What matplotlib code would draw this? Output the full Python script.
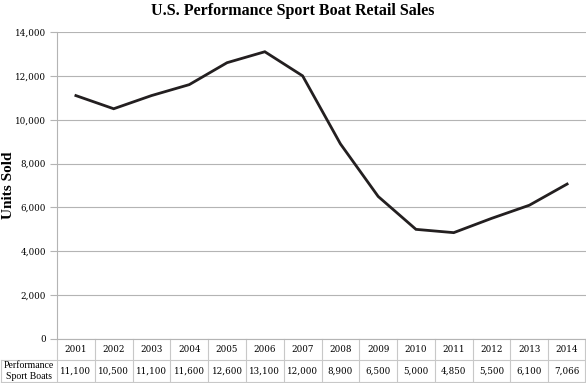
import matplotlib
matplotlib.use('Agg')
import matplotlib.pyplot as plt
import matplotlib.transforms as mtrans
from matplotlib.ticker import FuncFormatter

# Data #

years = ['2001', '2002', '2003', '2004', '2005', '2006', '2007',
         '2008', '2009', '2010', '2011', '2012', '2013', '2014']
boats = [11100, 10500, 11100, 11600, 12600, 13100, 12000,
         8900, 6500, 5000, 4850, 5500, 6100, 7066]
row_label = 'Performance\nSport Boats'

# Figure #

W, H = 586, 383
fig = plt.figure(figsize=(W / 100, H / 100), dpi=100)
left, right, top, bottom = 57, 586, 32, 339
ax = fig.add_axes([left / W, 1 - bottom / H, (right - left) / W, (bottom - top) / H])

grid_c = '#b4b4b4'
cell_c = '#c8c8c8'
serif = ['DejaVu Serif']

x = list(range(len(years)))
ax.plot(x, boats, color='#231f20', lw=2.0, solid_joinstyle='miter', zorder=3)

ax.set_xlim(-0.5, len(years) - 0.5)
ax.set_ylim(0, 14000)
ax.set_yticks(range(0, 14001, 2000))
ax.yaxis.set_major_formatter(FuncFormatter(lambda v, p: f'{int(v):,}'))
ax.tick_params(axis='y', length=5, width=0.8, color=grid_c, pad=3, labelsize=6.3)
for lab in ax.get_yticklabels():
    lab.set_family(serif)
ax.set_xticks([])
ax.grid(True, axis='y', color=grid_c, lw=0.8)
ax.set_axisbelow(True)
for s in ['top', 'right']:
    ax.spines[s].set_visible(False)
for s in ['left', 'bottom']:
    ax.spines[s].set_color(grid_c)
    ax.spines[s].set_linewidth(0.8)

fig.text(9 / W, 1 - 185 / H, 'Units Sold', rotation=90, ha='center', va='center',
         fontsize=11, fontweight='bold', family='Liberation Serif')
fig.text(0.5, 1 - 11 / H, 'U.S. Performance Sport Boat Retail Sales',
         ha='center', va='center', fontsize=11.5, fontweight='bold',
         family='Liberation Serif')

# Table below the axes (x in data units, y in pixels from axes bottom) #

unit_px = ax.get_window_extent().height
def yp(px):
    return -px / unit_px

trans = mtrans.blended_transform_factory(ax.transData, ax.transAxes)
row1 = yp(21)
row2 = yp(43)
x0 = -0.5
xl = x0 - (left - 0.5) / ((right - left) / len(years))  # left edge of label column
xr = len(years) - 0.5 - 0.02

kw = dict(transform=trans, clip_on=False, color=cell_c, lw=0.8)
# horizontal lines
ax.plot([xl, xr], [row1, row1], **kw)
ax.plot([xl, xr], [row2, row2], **kw)
# vertical lines
for i in range(len(years)):
    ax.plot([x0 + i, x0 + i], [0, row2], **kw)
ax.plot([xr, xr], [0, row2], **kw)
ax.plot([xl, xl], [row1, row2], **kw)

for i, (yr, v) in enumerate(zip(years, boats)):
    ax.text(i, row1 / 2, yr, transform=trans, ha='center', va='center',
            fontsize=6.3, family=serif, clip_on=False)
    ax.text(i, (row1 + row2) / 2, f'{v:,}', transform=trans, ha='center',
            va='center', fontsize=6.3, family=serif, clip_on=False)
ax.text((xl + x0) / 2, (row1 + row2) / 2, row_label, transform=trans,
        ha='center', va='center', fontsize=7, family='Liberation Serif',
        linespacing=1.15, clip_on=False)

fig.savefig('out.png', dpi=100)
